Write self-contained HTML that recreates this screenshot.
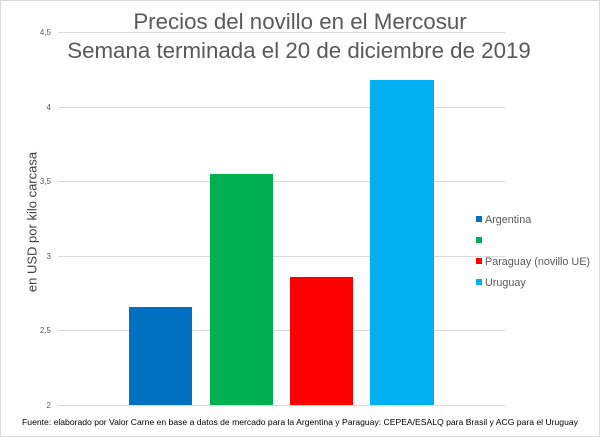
<!DOCTYPE html>
<html><head><meta charset="utf-8"><style>
body{margin:0;background:#fff}
svg{display:block;font-family:"Liberation Sans",sans-serif}
</style></head><body>
<svg width="600" height="437" viewBox="0 0 600 437">
<rect x="0.5" y="0.5" width="599" height="436" fill="#fff" stroke="#d9d9d9"/>
<text x="300" y="29" text-anchor="middle" font-size="22.3" fill="#595959">Precios del novillo en el Mercosur</text>
<text x="299" y="58" text-anchor="middle" font-size="22.3" fill="#595959">Semana terminada el 20 de diciembre de 2019</text>
<g stroke="#d9d9d9" stroke-width="1">
<line x1="58" x2="505" y1="32.5" y2="32.5"/>
<line x1="58" x2="505" y1="107.5" y2="107.5"/>
<line x1="58" x2="505" y1="181.5" y2="181.5"/>
<line x1="58" x2="505" y1="256.5" y2="256.5"/>
<line x1="58" x2="505" y1="330.5" y2="330.5"/>
<line x1="58" x2="505" y1="405.5" y2="405.5"/>
</g>
<g font-size="8" fill="#595959" text-anchor="end">
<text x="51" y="35">4,5</text><text x="51" y="110">4</text><text x="51" y="184">3,5</text>
<text x="51" y="259">3</text><text x="51" y="333">2,5</text><text x="51" y="408">2</text>
</g>
<text transform="translate(36.5,222) rotate(-90)" text-anchor="middle" font-size="13" fill="#404040">en USD por kilo carcasa</text>
<rect x="129" y="307" width="63" height="98" fill="#0070c0"/>
<rect x="210" y="174" width="63" height="231" fill="#00b050"/>
<rect x="290" y="277" width="63" height="128" fill="#ff0000"/>
<rect x="370" y="80" width="64" height="325" fill="#00b0f0"/>
<g font-size="10.8" fill="#595959">
<rect x="476" y="216" width="6" height="6" fill="#0070c0"/><text x="485" y="223">Argentina</text>
<rect x="476" y="237" width="6" height="6" fill="#00b050"/>
<rect x="476" y="258" width="6" height="6" fill="#ff0000"/><text x="485" y="265">Paraguay (novillo UE)</text>
<rect x="476" y="279" width="6" height="6" fill="#00b0f0"/><text x="485" y="286">Uruguay</text>
</g>
<text x="300" y="425" text-anchor="middle" font-size="8.6" fill="#000">Fuente: elaborado por Valor Carne en base a datos de mercado para la Argentina y Paraguay: CEPEA/ESALQ para Brasil y ACG para el Uruguay</text>
</svg>
</body></html>
